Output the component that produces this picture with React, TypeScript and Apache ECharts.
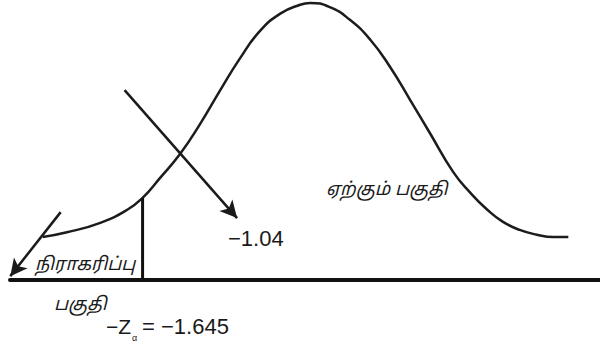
import React, { useEffect, useRef } from "react";
import * as echarts from "echarts";

// Curve: z (standard units) and density
const Z_VALUES = [-2.97, -2.7, -2.33, -2.03, -1.86, -1.67, -1.44, -1.22, -1.0, -0.78, -0.56, -0.33, -0.11, 0, 0.22, 0.44, 0.67, 0.89, 1.11, 1.33, 1.59, 1.78, 1.97, 2.14, 2.33, 2.52, 2.7, 2.87];
const DENSITY = [0.005, 0.013, 0.029, 0.051, 0.071, 0.104, 0.146, 0.196, 0.252, 0.306, 0.352, 0.382, 0.397, 0.4, 0.393, 0.372, 0.338, 0.292, 0.237, 0.181, 0.115, 0.08, 0.051, 0.031, 0.017, 0.009, 0.005, 0.005];

// Critical value line (-Zα)
const CRITICAL_Z = -1.86;
const CRITICAL_DENSITY = 0.071;

// Arrows (from, to) in z / density units
const ARROW_STAT_FROM = [-2.06, 0.253];
const ARROW_STAT_TO = [-0.81, 0.037];
const ARROW_REJECT_FROM = [-2.77, 0.047];
const ARROW_REJECT_TO = [-3.33, -0.061];

// Axis extents
const X_MIN = -3.333;
const X_MAX = 3.222;
const Y_MIN = -0.0675;
const Y_MAX = 0.405;

// Texts
const STAT_LABEL = "\u22121.04";
const REJECT_LABEL_1 = "நிராகரிப்பு";
const REJECT_LABEL_2 = "பகுதி";
const ACCEPT_LABEL = "ஏற்கும் பகுதி";
const CRIT_LABEL_A = "\u2212Z";
const CRIT_LABEL_SUB = "α";
const CRIT_LABEL_B = "= \u22121.645";

const LATIN = '"Liberation Sans", Arial, Helvetica, sans-serif';
const TAMIL = '"Noto Sans Tamil", Latha, "Lohit Tamil", "Noto Sans", sans-serif';

export default function App() {
  const ref = useRef<HTMLDivElement>(null);

  useEffect(() => {
    if (!ref.current) return;
    const chart = echarts.init(ref.current, undefined, { renderer: "svg" });
    const curve = Z_VALUES.map((z, i) => [z, DENSITY[i]]);

    chart.setOption({
      animation: false,
      backgroundColor: "#ffffff",
      grid: { left: 10, right: 0, top: 0, bottom: 70 },
      xAxis: {
        type: "value",
        min: X_MIN,
        max: X_MAX,
        axisLine: { show: true, onZero: false, lineStyle: { color: "#111", width: 4 } },
        axisTick: { show: false },
        axisLabel: { show: false },
        splitLine: { show: false },
      },
      yAxis: {
        type: "value",
        min: Y_MIN,
        max: Y_MAX,
        show: false,
        splitLine: { show: false },
      },
      series: [
        {
          type: "line",
          data: curve,
          smooth: 0.5,
          showSymbol: false,
          silent: true,
          lineStyle: { color: "#1c1c1c", width: 2.5 },
        },
        {
          type: "line",
          data: [
            [CRITICAL_Z, CRITICAL_DENSITY],
            [CRITICAL_Z, Y_MIN],
          ],
          showSymbol: false,
          silent: true,
          lineStyle: { color: "#111", width: 3 },
          markLine: {
            silent: true,
            symbol: ["none", "arrow"],
            symbolSize: [13, 17],
            label: { show: false },
            lineStyle: { color: "#1a1a1a", width: 2.5, type: "solid" },
            emphasis: { disabled: true },
            data: [
              [{ coord: ARROW_STAT_FROM }, { coord: ARROW_STAT_TO }],
              [{ coord: ARROW_REJECT_FROM }, { coord: ARROW_REJECT_TO }],
            ],
          },
        },
      ],
      graphic: [
        {
          type: "text",
          x: 228,
          y: 238,
          style: { text: STAT_LABEL, font: `22px ${LATIN}`, fill: "#1a1a1a", verticalAlign: "middle" },
        },
        {
          type: "text",
          x: 35,
          y: 265,
          style: { text: REJECT_LABEL_1, font: `italic 18px ${TAMIL}`, fill: "#1a1a1a", verticalAlign: "middle" },
        },
        {
          type: "text",
          x: 54,
          y: 305,
          style: { text: REJECT_LABEL_2, font: `italic 18px ${TAMIL}`, fill: "#1a1a1a", verticalAlign: "middle" },
        },
        {
          type: "text",
          x: 326,
          y: 190,
          style: { text: ACCEPT_LABEL, font: `italic 18px ${TAMIL}`, fill: "#1a1a1a", verticalAlign: "middle" },
        },
        {
          type: "text",
          x: 106,
          y: 326,
          style: { text: CRIT_LABEL_A, font: `21px ${LATIN}`, fill: "#1a1a1a", verticalAlign: "middle" },
        },
        {
          type: "text",
          x: 132,
          y: 338,
          style: { text: CRIT_LABEL_SUB, font: `9px ${LATIN}`, fill: "#1a1a1a", verticalAlign: "middle" },
        },
        {
          type: "text",
          x: 142,
          y: 326,
          style: { text: CRIT_LABEL_B, font: `22px ${LATIN}`, fill: "#1a1a1a", verticalAlign: "middle" },
        },
      ],
    });

    return () => chart.dispose();
  }, []);

  return (
    <div
      ref={ref}
      style={{ position: "absolute", left: 0, top: 0, width: 600, height: 350, background: "#fff" }}
    />
  );
}
